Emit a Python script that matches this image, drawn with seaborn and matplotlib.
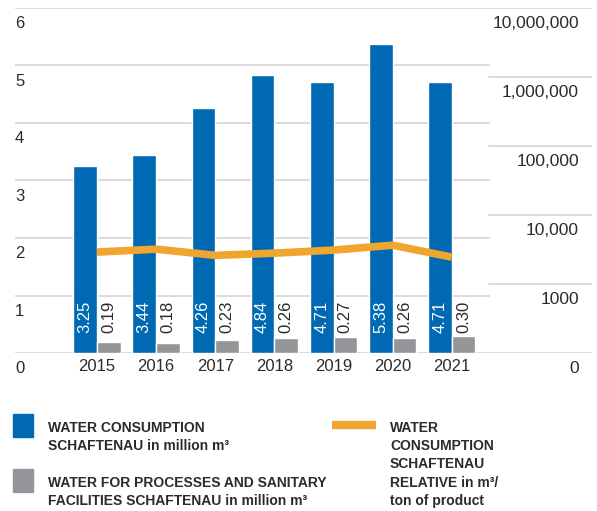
import numpy as np
import pandas as pd
import matplotlib.pyplot as plt
import matplotlib.transforms as mtransforms
from matplotlib.patches import Rectangle
from matplotlib.lines import Line2D
import seaborn as sns

years = ['2015', '2016', '2017', '2018', '2019', '2020', '2021']
consumption = [3.25, 3.44, 4.26, 4.84, 4.71, 5.38, 4.71]
processes = [0.19, 0.18, 0.23, 0.26, 0.27, 0.26, 0.30]
relative = [2900, 3200, 2600, 2800, 3100, 3650, 2450]

left_ticks = [0, 1, 2, 3, 4, 5, 6]
right_ticks = [100, 1000, 10000, 100000, 1000000, 10000000]
right_labels = ['0', '1000', '10,000', '100,000', '1,000,000', '10,000,000']

BLUE = '#0069b4'
GRAY = '#939598'
ORANGE = '#f0a62e'
GRID = '#dadada'
TXT = '#2b2b2b'

sns.set_style('white')
plt.rcParams['font.family'] = ['Liberation Sans', 'DejaVu Sans']

W, H = 597, 511
fig = plt.figure(figsize=(W / 100, H / 100), dpi=100)
ax = fig.add_axes([15 / W, (H - 353) / H, 577 / W, 345 / H])

df = pd.DataFrame({
    'year': years * 2,
    'value': consumption + processes,
    'series': ['consumption'] * len(years) + ['processes'] * len(years),
})
sns.barplot(data=df, x='year', y='value', hue='series', palette=[BLUE, GRAY],
            width=0.8, saturation=1, legend=False, ax=ax, zorder=2)

ax.set_ylim(0, 6)
split = (489 - 15) / 577
for y in left_ticks:
    full = y in (left_ticks[0], left_ticks[-1])
    ax.axhline(y, xmin=0, xmax=1 if full else split, color=GRID, lw=1.4, zorder=0.5)

# value labels, rotated, near the base of the bars
for cont, col in zip(ax.containers, ['white', TXT]):
    for bar, v in zip(cont, cont.datavalues):
        ax.text(bar.get_x() + bar.get_width() / 2, 0.35, f'{v:.2f}', rotation=90,
                ha='center', va='bottom', color=col, fontsize=12, zorder=3)

ax2 = ax.twinx()
sns.lineplot(x=np.arange(len(years)), y=relative, color=ORANGE, lw=5.5, ax=ax2,
             solid_capstyle='butt', zorder=4)
ax2.set_yscale('log')
ax2.set_ylim(right_ticks[0], right_ticks[-1])
for v in right_ticks[1:-1]:
    ax2.axhline(v, xmin=split, xmax=1, color=GRID, lw=1.4, zorder=0.5)

ax.set_xlim(-1.386, 8.37)
for a in (ax, ax2):
    for s in a.spines.values():
        s.set_visible(False)
ax.set_xlabel('')
ax.set_ylabel('')
ax2.set_ylabel('')

ax.set_yticks(left_ticks)
ax.set_yticklabels([str(t) for t in left_ticks])
ax.tick_params(axis='y', length=0, pad=0, labelsize=12, labelcolor=TXT)
ax.tick_params(axis='x', length=0, pad=4, labelsize=12, labelcolor=TXT)
down = mtransforms.ScaledTranslation(0, -0.14, fig.dpi_scale_trans)
for lab in ax.get_yticklabels():
    lab.set_horizontalalignment('left')
    lab.set_transform(lab.get_transform() + down)

ax2.set_yticks(right_ticks)
ax2.set_yticklabels(right_labels)
ax2.minorticks_off()
ax2.tick_params(axis='y', length=0, pad=-9.4, labelsize=12.5, labelcolor=TXT)
for lab in ax2.get_yticklabels():
    lab.set_horizontalalignment('right')
    lab.set_transform(lab.get_transform() + down)


# legend, drawn by hand in figure pixels
def fx(px):
    return px / W


def fy(py):
    return 1 - py / H


fig.add_artist(Rectangle((fx(13), fy(437)), 20 / W, 23 / H, color=BLUE, transform=fig.transFigure))
fig.add_artist(Rectangle((fx(13), fy(492)), 20 / W, 23 / H, color=GRAY, transform=fig.transFigure))
fig.add_artist(Line2D([fx(332), fx(376)], [fy(425), fy(425)], color=ORANGE, lw=6,
                      solid_capstyle='butt', transform=fig.transFigure))

legend_items = [
    (48, 431.7, ['WATER CONSUMPTION', 'SCHAFTENAU in million m³']),
    (48, 486.7, ['WATER FOR PROCESSES AND SANITARY', 'FACILITIES SCHAFTENAU in million m³']),
    (390, 431.7, ['WATER', 'CONSUMPTION', 'SCHAFTENAU', 'RELATIVE in m³/', 'ton of product']),
]
for x0, y0, lines in legend_items:
    for k, line in enumerate(lines):
        fig.text(fx(x0), fy(y0 + k * 18.3), line, ha='left', va='baseline',
                 fontsize=10, fontweight='bold', color=TXT)

fig.savefig('out.png', dpi=100)
